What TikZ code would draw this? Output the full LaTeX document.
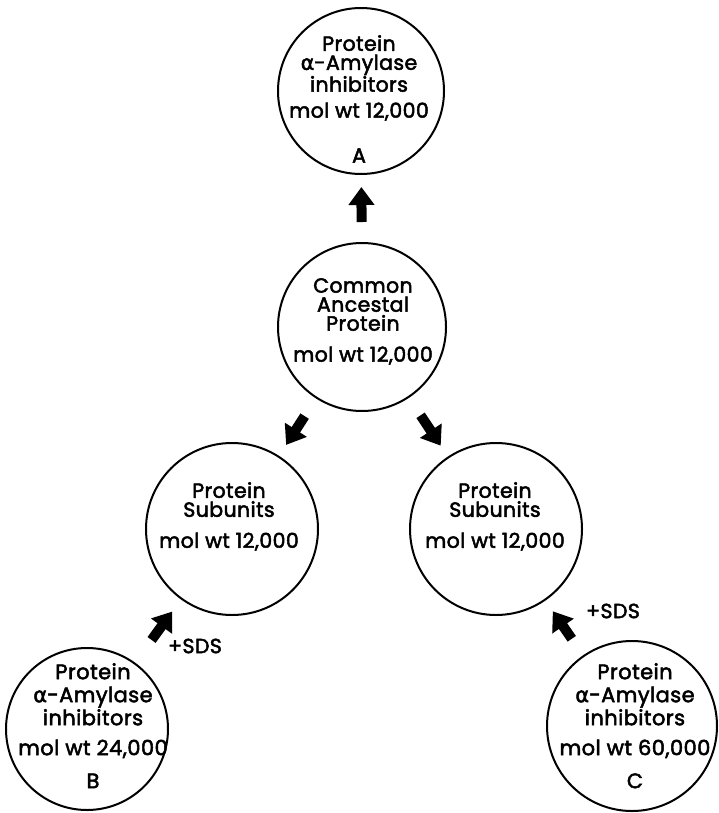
\documentclass[tikz,border=0pt]{standalone}
\usepackage{fontspec}
\setmainfont[LetterSpace=2,FakeBold=2.4]{Poppins}
\newfontfamily\greekfont[FakeBold=2.4]{DejaVu Sans}
\usetikzlibrary{arrows.meta}
\newcommand{\amylase}{{\greekfont α}-Amylase}
\begin{document}
\begin{tikzpicture}[x=1pt,y=-1pt,
    disc/.style={circle,draw,line width=2pt,minimum size=#1,inner sep=0pt},
    txt/.style={align=center,anchor=north,inner sep=0pt,font=\fontsize{20.5}{19}\selectfont},
    blk/.style={line width=10pt,-{Triangle[length=18pt,width=25pt]},shorten <=20pt,shorten >=12pt},
    sds/.style={inner sep=0pt,font=\fontsize{20.5}{19}\selectfont}]
  \useasboundingbox (0,0) rectangle (718,813);
  % circles
  \node[disc=166] (inhA)  at (361,91)  {};
  \node[disc=168] (ances) at (362,327) {};
  \node[disc=172] (subL)  at (232,529) {};
  \node[disc=172] (subR)  at (496,529) {};
  \node[disc=162] (inhB)  at (87,729)  {};
  \node[disc=170] (inhC)  at (632,726) {};
  % texts
  \node[txt] (txtA) at (359,35) {Protein\\ \amylase\\ inhibitors\\[7pt] mol wt 12,000\\[26pt] A};
  \node[txt] (txtAnc) at (363,278) {Common\\ Ancestal\\ Protein\\[12pt] mol wt 12,000};
  \node[txt] (txtL) at (229,482) {Protein\\ Subunits\\[12pt] mol wt 12,000};
  \node[txt] (txtR) at (495,482) {Protein\\ Subunits\\[12pt] mol wt 12,000};
  \node[txt,font=\fontsize{21}{23}\selectfont] (txtB) at (93,663) {Protein\\ \amylase\\ inhibitors\\[7pt] mol wt 24,000\\[10pt] B};
  \node[txt,font=\fontsize{21}{23}\selectfont] (txtC) at (635,663) {Protein\\ \amylase\\ inhibitors\\[7pt] mol wt 60,000\\[10pt] C};
  \node[sds] (sdsB) at (195,646) {+SDS};
  \node[sds] (sdsC) at (613,611) {+SDS};
  % arrows
  \draw[blk] (ances) -- (inhA);
  \draw[blk,shorten <=21pt,shorten >=13pt] (ances) -- (subL);
  \draw[blk,shorten <=21pt,shorten >=13pt] (ances) -- (subR);
  \draw[blk,shorten <=28pt,shorten >=15pt] (inhB) -- (subL);
  \draw[blk,shorten >=13pt] (inhC) -- (subR);
\end{tikzpicture}
\end{document}
